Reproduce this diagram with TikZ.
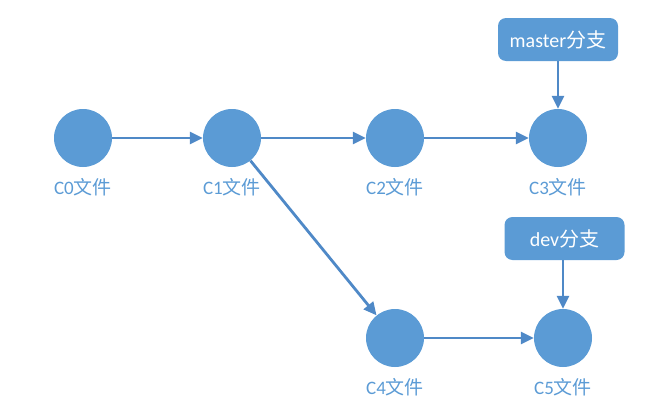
\documentclass[tikz,border=0pt]{standalone}
\usepackage{fontspec}
\setmainfont{Carlito}
\newfontfamily\cjk{Noto Sans CJK SC}
\usetikzlibrary{arrows.meta}
\definecolor{nodeblue}{HTML}{5B9BD5}
\definecolor{lineblue}{HTML}{4F89C7}

\begin{document}
\begin{tikzpicture}[x=1pt, y=-1pt,
  commit/.style={circle, fill=nodeblue, minimum size=58pt, inner sep=0pt},
  lbl/.style={text=nodeblue, font=\fontsize{19}{21}\selectfont},
  branch/.style={rectangle, rounded corners=8pt, fill=nodeblue, text=white, minimum width=120pt, minimum height=43pt, inner sep=2pt, font=\fontsize{20}{22}\selectfont},
  link/.style={draw=lineblue, line width=2.8pt, -{Triangle[length=13pt, width=12pt]}}]

  \useasboundingbox (0,0) rectangle (667,415);

  % commits
  \node[commit] (c0) at (83,138) {};
  \node[commit] (c1) at (232,138) {};
  \node[commit] (c2) at (395,138) {};
  \node[commit] (c3) at (558,138) {};
  \node[commit] (c4) at (395,338) {};
  \node[commit] (c5) at (563,338) {};

  \node[lbl] (l0) at (83,187) {C0{\cjk 文件}};
  \node[lbl] (l1) at (232,187) {C1{\cjk 文件}};
  \node[lbl] (l2) at (395,187) {C2{\cjk 文件}};
  \node[lbl] (l3) at (558,187) {C3{\cjk 文件}};
  \node[lbl] (l4) at (395,387) {C4{\cjk 文件}};
  \node[lbl] (l5) at (563,387) {C5{\cjk 文件}};

  % branches
  \node[branch] (master) at (558,39.5) {master{\cjk 分支}};
  \node[branch] (dev) at (564.5,238.5) {dev{\cjk 分支}};

  \draw[link] (c0) -- (c1);
  \draw[link] (c1) -- (c2);
  \draw[link] (c2) -- (c3);
  \draw[link] (c1) -- (c4);
  \draw[link] (c4) -- (c5);
  \draw[link] (master.south -| c3) -- (c3);
  \draw[link] (dev.south -| c5) -- (c5);

\end{tikzpicture}
\end{document}
